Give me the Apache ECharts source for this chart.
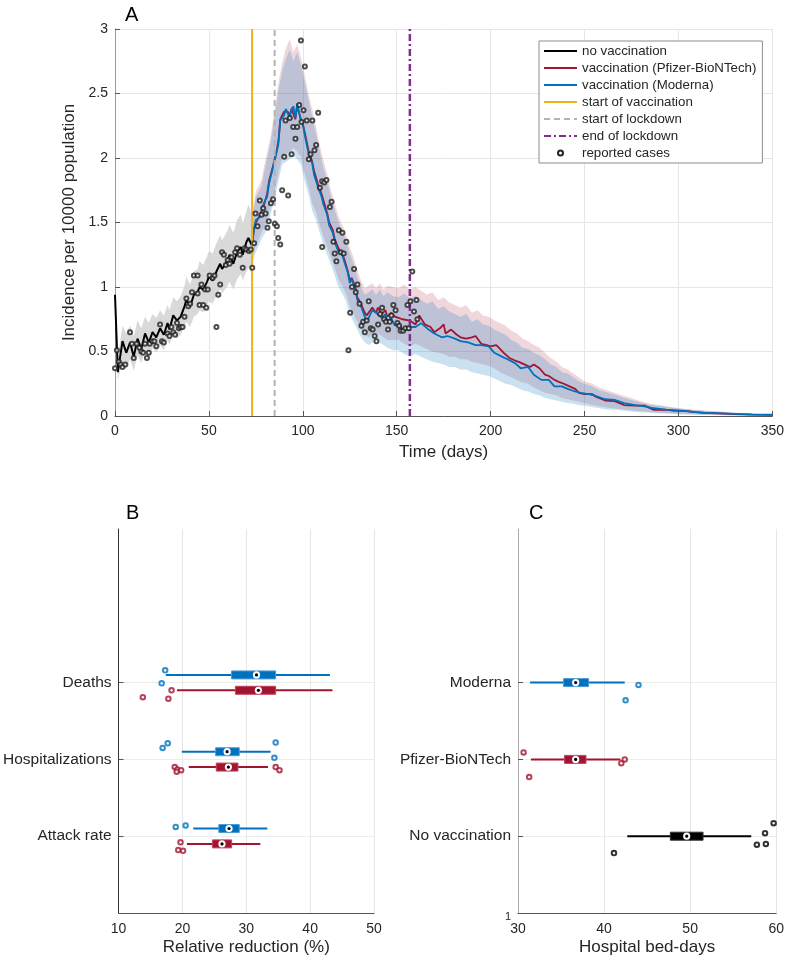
<!DOCTYPE html>
<html>
<head>
<meta charset="utf-8">
<script src="https://cdn.jsdelivr.net/npm/echarts@6/dist/echarts.min.js"></script>
<style>
  html, body { margin: 0; padding: 0; background: #fff; }
  #chart { width: 787px; height: 960px; }
</style>
</head>
<body>
<div id="chart"></div>
<script>
// ---- panel A: incidence per 10000 ----
const noVacDays = [0,1.5,4,6,8,10,12,14,16,18, 20,22,24,26,28,29,31,33,35,37, 38,40,42,44,45,47,49,50,52,54, 56,57,60,61,63,65,67,68,70,71, 73];
const noVac   = [0.94,0.34,0.58,0.49,0.57,0.46,0.60,0.52,0.64,0.57, 0.65,0.61,0.68,0.63,0.72,0.67,0.78,0.74,0.77,0.85, 0.90,0.85,0.94,0.96,1.00,0.98,1.04,1.08,1.05,1.12, 1.18,1.14,1.21,1.25,1.18,1.27,1.31,1.25,1.35,1.38, 1.32];
const noVacUp = [0.94,0.46,0.70,0.64,0.70,0.62,0.74,0.68,0.77,0.72, 0.79,0.76,0.82,0.78,0.86,0.82,0.92,0.89,0.93,1.01, 1.08,1.02,1.12,1.14,1.20,1.17,1.24,1.28,1.26,1.34, 1.40,1.36,1.44,1.48,1.42,1.52,1.56,1.49,1.59,1.64, 1.57];
const noVacLo = [0.94,0.28,0.42,0.36,0.44,0.35,0.47,0.41,0.51,0.45, 0.53,0.49,0.55,0.51,0.59,0.55,0.64,0.60,0.63,0.69, 0.73,0.69,0.77,0.79,0.82,0.80,0.85,0.89,0.87,0.93, 0.98,0.95,1.01,1.04,0.98,1.06,1.10,1.05,1.12,1.15, 1.10];

const redDays = [73,74,75,77,79,81,82,84,86,87, 88,90,91,92,93,94,95,96,97,98, 99,100,101,103,105,106,108,110,111,113, 114,116,117,119,121,122,124,125,126,128, 129,131,133,134,136,137,139,140,142,144, 145,147,149,151,153,157,160,162,165,168, 170,173,175,176,179,182,184,187,190,192, 195,198,200,203,205,207,210,213,215,218, 221,223,226,229,231,234,237,239,242,245, 247,250,254,256,261,266,271,277,282,287, 293,298,303,309,314,321,330,339,350];
const pfizer = [1.33,1.45,1.50,1.55,1.62,1.72,1.82,1.93,2.05,2.13, 2.30,2.36,2.37,2.36,2.33,2.38,2.38,2.30,2.40,2.41, 2.30,2.26,2.20,2.06,1.97,1.90,1.80,1.72,1.67,1.57, 1.50,1.44,1.37,1.30,1.25,1.22,1.12,1.05,1.07,1.00, 0.92,0.87,0.80,0.78,0.82,0.84,0.80,0.84,0.79,0.82, 0.77,0.80,0.77,0.76,0.75,0.74,0.71,0.78,0.71,0.69, 0.65,0.68,0.71,0.64,0.67,0.63,0.61,0.60,0.61,0.62, 0.56,0.55,0.54,0.55,0.52,0.49,0.45,0.43,0.42,0.40, 0.38,0.40,0.37,0.32,0.31,0.28,0.26,0.25,0.23,0.21, 0.18,0.17,0.17,0.15,0.12,0.115,0.085,0.08,0.08,0.047, 0.05,0.04,0.04,0.03,0.025,0.02,0.015,0.01,0.008];

const blueDays = [73,74,75,77,79,81,82,84,86,87, 88,90,91,92,93,94,95,96,97,98, 99,100,101,103,105,106,108,110,111,113, 114,116,117,119,121,122,124,125,126,128, 129,131,133,134,136,137,139,140,142,144, 145,147,149,151,153,156,160,163,167,170, 174,177,181,184,188,192,195,199,202,206, 209,213,216,220,223,227,231,234,238,241, 245,248,252,255,261,266,271,277,282,287, 293,298,303,309,314,321,330,339,350];
const moderna = [1.33,1.45,1.52,1.54,1.64,1.70,1.80,1.92,2.04,2.11, 2.29,2.33,2.38,2.37,2.31,2.38,2.40,2.31,2.42,2.42, 2.29,2.27,2.18,2.04,1.96,1.87,1.78,1.70,1.64,1.56, 1.48,1.42,1.35,1.27,1.25,1.20,1.11,1.03,1.06,0.98, 0.90,0.85,0.77,0.73,0.79,0.82,0.80,0.81,0.76,0.79, 0.73,0.76,0.70,0.72,0.67,0.69,0.69,0.72,0.67,0.64, 0.61,0.62,0.60,0.58,0.57,0.55,0.55,0.54,0.49,0.46, 0.44,0.41,0.37,0.38,0.32,0.28,0.28,0.23,0.23,0.21, 0.19,0.18,0.17,0.16,0.13,0.125,0.10,0.085,0.075,0.06, 0.05,0.045,0.04,0.03,0.025,0.022,0.017,0.013,0.01];

// uncertainty bands of the two vaccination runs
const bandDays = [73,75,78,80,83,85,87,89,91,93, 95,97,99,101,103,105,107,109,111,113, 115,117,119,121,123,125,127,129,131,133, 135,137,139,141,143,145,148,151,154,157, 160,163,166,169,172,175,178,181,184,187, 190,193,196,199,202,205,208,211,214,217, 220,223,226,229,232,235,238,241,244,247, 250,254,258,262,266,270,275,280,285,290, 295,300,310,320,330,340,350];
const pfizerUp = [1.57,1.74,1.83,1.98,2.18,2.38,2.58,2.74,2.85,2.92, 2.82,2.88,2.78,2.65,2.50,2.38,2.25,2.10,1.98,1.88, 1.75,1.65,1.55,1.48,1.41,1.31,1.23,1.13,1.05,0.99, 1.01,1.03,0.99,1.03,0.98,1.01,1.00,0.99,1.02,0.98, 1.00,0.97,0.94,0.96,0.90,0.92,0.88,0.86,0.84,0.86, 0.80,0.82,0.78,0.77,0.74,0.72,0.70,0.66,0.64,0.60, 0.58,0.55,0.53,0.49,0.45,0.42,0.38,0.36,0.33,0.30, 0.27,0.25,0.22,0.20,0.18,0.16,0.14,0.115,0.095,0.085, 0.072,0.062,0.047,0.036,0.026,0.018,0.012];
const pfizerLo = [1.22,1.32,1.42,1.48,1.63,1.75,1.88,2.01,2.03,2.05, 2.08,2.05,2.01,1.88,1.78,1.65,1.58,1.48,1.39,1.31, 1.23,1.15,1.06,1.01,0.95,0.85,0.79,0.73,0.67,0.63, 0.61,0.63,0.65,0.63,0.61,0.59,0.59,0.59,0.56,0.54, 0.56,0.54,0.52,0.50,0.49,0.48,0.46,0.46,0.44,0.44, 0.42,0.41,0.40,0.39,0.37,0.34,0.32,0.30,0.28,0.26, 0.25,0.22,0.20,0.18,0.17,0.16,0.14,0.13,0.12,0.11, 0.10,0.085,0.075,0.065,0.058,0.052,0.042,0.036,0.031,0.026, 0.021,0.016,0.011,0.008,0.005,0.003,0.002];
const modernaUp = [1.54,1.70,1.78,1.93,2.13,2.33,2.52,2.67,2.77,2.84, 2.75,2.82,2.72,2.59,2.45,2.32,2.19,2.05,1.92,1.82, 1.70,1.60,1.50,1.43,1.36,1.26,1.18,1.08,1.00,0.94, 0.96,0.98,0.94,0.98,0.93,0.96,0.93,0.92,0.95,0.91, 0.93,0.90,0.87,0.89,0.83,0.85,0.81,0.79,0.77,0.79, 0.73,0.75,0.71,0.70,0.67,0.65,0.63,0.59,0.57,0.53, 0.52,0.49,0.47,0.44,0.40,0.38,0.34,0.33,0.30,0.27, 0.25,0.23,0.20,0.185,0.165,0.145,0.125,0.105,0.088,0.078, 0.068,0.058,0.044,0.034,0.025,0.018,0.012];
const modernaLo = [1.18,1.27,1.37,1.42,1.57,1.69,1.82,1.95,1.97,1.99, 2.02,1.99,1.95,1.82,1.72,1.59,1.52,1.42,1.33,1.25, 1.17,1.09,1.00,0.95,0.89,0.79,0.73,0.67,0.61,0.57, 0.55,0.57,0.59,0.57,0.55,0.53,0.51,0.51,0.48,0.46, 0.48,0.46,0.44,0.42,0.41,0.40,0.38,0.38,0.36,0.36, 0.34,0.33,0.32,0.31,0.29,0.27,0.25,0.24,0.22,0.20, 0.19,0.17,0.16,0.14,0.13,0.12,0.11,0.10,0.095,0.085, 0.08,0.07,0.06,0.05,0.048,0.043,0.035,0.03,0.026,0.021, 0.017,0.013,0.009,0.007,0.004,0.003,0.002];

// start of vaccination, start of lockdown, end of lockdown
const eventDays = [73, 85, 157];

// reported cases [day, incidence]
const reportedCases = [
  [0,0.37],[1,0.51],[2,0.42],[3,0.40],[4,0.38],[5.5,0.40],[8,0.65],[9,0.56],[10,0.45],[11.5,0.56],
  [13,0.53],[14,0.50],[15,0.49],[16,0.56],[17,0.45],[18,0.49],[18.5,0.56],[20,0.58],[21,0.58],[22,0.54],
  [24,0.71],[25,0.58],[26,0.57],[28,0.64],[29,0.62],[30,0.69],[31,0.65],[32,0.63],[33,0.72],[34,0.68],
  [35,0.69],[36,0.69],[37,0.77],[38,0.91],[39,0.85],[40,0.87],[41,0.96],[42,1.09],[44,1.09],[44,0.95],
  [45,0.86],[46,1.02],[47,0.86],[48,0.98],[48.6,0.84],[49.4,0.98],[50.4,1.09],[52,1.07],[53,1.09],[54,0.69],
  [55,0.94],[56,1.02],[57,1.27],[58,1.25],[59,1.17],[60,1.21],[61,1.18],[62,1.23],[64,1.27],[65,1.30],
  [66.5,1.25],[68,1.15],[69,1.30],[70,1.29],[71.3,1.28],[72.3,1.29],[73.1,1.15],[74.1,1.34],[74.8,1.57],[75.9,1.47],
  [77.1,1.67],[78,1.56],[78.9,1.61],[80.2,1.57],[81.2,1.46],[81.9,1.51],[83,1.65],[84.2,1.68],[85.1,1.49],[86.2,1.47],
  [86.9,1.38],[88,1.33],[89,1.75],[90.1,2.01],[90.8,2.29],[92.2,1.71],[93.1,2.31],[94,2.03],[94.9,2.24],[96.1,2.15],
  [97,2.24],[98.1,2.41],[99,2.91],[99.3,2.28],[100.4,2.37],[101.1,2.71],[102.1,2.29],[103.2,1.99],[104.1,2.03],[105.1,2.29],
  [106.2,2.06],[107.1,2.10],[108.2,2.35],[109.1,1.77],[110.3,1.82],[111.4,1.81],[112.6,1.83],[110.3,1.31],[114.4,1.62],[115.3,1.66],
  [116.3,1.35],[117,1.26],[117.9,1.20],[119.2,1.44],[120.2,1.27],[121.1,1.42],[121.8,1.26],[123.2,1.35],[124.3,0.51],[125.2,0.80],
  [126.2,1.00],[127.3,1.14],[128.2,0.96],[129.1,1.02],[130.2,0.87],[131.2,0.70],[132.1,0.73],[133,0.65],[134,0.74],[135.1,0.89],
  [136.2,0.68],[137.2,0.67],[138.3,0.62],[139.2,0.58],[140.1,0.71],[141.2,0.79],[142.2,0.84],[143.3,0.75],[144.3,0.73],[145.4,0.67],
  [146.3,0.73],[147.2,0.78],[148.2,0.86],[149.4,0.82],[150.4,0.72],[151.3,0.70],[152.1,0.66],[153.4,0.66],[154.6,0.68],[155.7,0.86],
  [156.4,0.68],[157.3,0.89],[158.3,1.12],[159.2,0.81],[160.5,0.90],[161,0.75]
];

// ---- panel B: relative reduction (%) ----  box = [lower whisker, q1, median, q3, upper whisker]
const outcomes = ["Attack rate", "Hospitalizations", "Deaths"];
const outcomePos = [2, 3, 4];
const modernaReduction = [[21.7,25.7,27.3,28.9,33.3],[19.9,25.2,27.0,28.9,33.8],[17.4,27.7,31.6,34.6,43.1]];
const pfizerReduction  = [[20.7,24.7,26.2,27.7,32.2],[21.0,25.3,27.2,28.7,33.4],[19.15,28.3,31.9,34.6,43.5]];
const modernaReductionOut = [[18.95,2.12],[20.5,2.14],[17.7,3.21],[16.9,3.15],[34.6,3.22],[34.4,3.02],[17.3,4.16],[16.75,3.99]];
const pfizerReductionOut  = [[19.7,1.92],[19.35,1.82],[20.1,1.81],[18.8,2.90],[19.2,2.87],[19.8,2.86],[19.1,2.84],[34.6,2.90],[35.2,2.86],[18.3,3.90],[13.8,3.81],[17.8,3.79]];

// ---- panel C: hospital bed-days ----
const scenarios = ["No vaccination", "Pfizer-BioNTech", "Moderna"];
const scenarioPos = [2, 3, 4];
const bedDays = [[42.7,47.7,49.6,51.5,57.1],[31.5,35.4,36.7,37.9,41.9],[31.4,35.3,36.7,38.2,42.4]];
const bedDaysOut = [
  [[41.15,1.78],[57.75,1.89],[58.8,1.90],[58.7,2.04],[59.7,2.17]],
  [[30.65,3.09],[31.3,2.77],[42.0,2.95],[42.4,3.0]],
  [[44.0,3.97],[42.5,3.77]]
];

const FONT = "Liberation Sans, Arial, Helvetica, sans-serif";
const TXT = "#262626";
const BLACK = "#000000", RED = "#A2142F", BLUE = "#0072BD";
const ORANGE = "#EDB120", GREY = "#B3B3B3", PURPLE = "#7E2F8E";

const zip = (xs, ys) => xs.map((x, i) => [x, ys[i]]);

// shaded band between two curves, drawn through the axis scales
const band = (days, up, lo, fill, z) => ({
  type: "custom",
  xAxisIndex: 0,
  yAxisIndex: 0,
  silent: true,
  clip: true,
  z: z,
  data: [[days[0], up[0]]],
  renderItem: (params, api) => {
    const top = days.map((d, i) => api.coord([d, up[i]]));
    const bot = days.map((d, i) => api.coord([d, lo[i]])).reverse();
    return { type: "polygon", shape: { points: top.concat(bot) }, style: { fill: fill } };
  },
});

// horizontal box chart row (matlab boxchart look)
const boxes = (stats, pos, shift, color, edge, axis) => ({
  type: "custom",
  xAxisIndex: axis,
  yAxisIndex: axis,
  silent: true,
  z: 3,
  encode: { x: [1, 2, 3, 4, 5], y: 0 },
  data: stats.map((s, i) => [pos[i] + shift].concat(s)),
  renderItem: (params, api) => {
    const y = api.value(0);
    const p = [1, 2, 3, 4, 5].map((k) => api.coord([api.value(k), y]));
    const h = 8;
    return {
      type: "group",
      children: [
        { type: "line", shape: { x1: p[0][0], y1: p[0][1], x2: p[4][0], y2: p[4][1] }, style: { stroke: color, lineWidth: 2 } },
        { type: "rect", shape: { x: p[1][0], y: p[1][1] - h / 2, width: p[3][0] - p[1][0], height: h }, style: { fill: color, stroke: edge, lineWidth: 1 } },
        { type: "circle", shape: { cx: p[2][0], cy: p[2][1], r: 3.6 }, style: { fill: "#fff" } },
        { type: "circle", shape: { cx: p[2][0], cy: p[2][1], r: 1.6 }, style: { fill: "#000" } },
      ],
    };
  },
});

const outliers = (pts, color, axis) => ({
  type: "scatter",
  xAxisIndex: axis,
  yAxisIndex: axis,
  silent: true,
  z: 4,
  data: pts,
  symbol: "emptyCircle",
  symbolSize: 4.5,
  itemStyle: { color: color, borderColor: color, borderWidth: 1.2 },
});

const vline = (name, day, color, width, dash) => ({
  type: "line",
  name: name,
  xAxisIndex: 0,
  yAxisIndex: 0,
  data: [[day, 0], [day, 3]],
  symbol: "none",
  z: 5,
  lineStyle: { color: color, width: width, type: dash },
  itemStyle: { color: color },
});

const axisBits = {
  axisLine: { lineStyle: { color: "#555", width: 1 } },
  axisTick: { inside: true, length: 5, lineStyle: { color: "#555" } },
  axisLabel: { fontSize: 14, color: TXT, fontFamily: FONT },
  splitLine: { show: true, lineStyle: { color: "#e6e6e6", width: 1 } },
};

const catAxis = (idx, pos, labels, ticks, showOne, lineColor) => ({
  gridIndex: idx,
  type: "value",
  min: 1,
  max: 6,
  axisLine: { show: true, lineStyle: { color: lineColor, width: 1 } },
  axisTick: { show: true, inside: true, length: 5, customValues: ticks, lineStyle: { color: "#555" } },
  axisLabel: {
    customValues: showOne ? [1].concat(ticks) : ticks,
    fontSize: 15.5,
    color: TXT,
    fontFamily: FONT,
    margin: 7,
    formatter: (v) => {
      const i = pos.indexOf(v);
      if (i >= 0) return labels[i];
      return v === 1 ? "{s|1}" : "";
    },
    rich: { s: { fontSize: 11, color: TXT, fontFamily: FONT, padding: [8, 0, 0, 0] } },
  },
  splitLine: { show: true, lineStyle: { color: "#ececec", width: 1 } },
});

// legend entries for lines: hide the marker dot echarts puts on line icons
const lineEntry = (name) => ({ name: name, itemStyle: { opacity: 0 } });

const chart = echarts.init(document.getElementById("chart"), null, { renderer: "canvas" });
chart.setOption({
  animation: false,
  textStyle: { fontFamily: FONT },
  title: [
    { text: "A", left: 120, top: 0, textStyle: { fontSize: 20, fontWeight: "normal", color: "#000", fontFamily: FONT } },
    { text: "B", left: 121, top: 498, textStyle: { fontSize: 20, fontWeight: "normal", color: "#000", fontFamily: FONT } },
    { text: "C", left: 524, top: 498, textStyle: { fontSize: 20, fontWeight: "normal", color: "#000", fontFamily: FONT } },
  ],
  legend: {
    data: [
      lineEntry("no vaccination"),
      lineEntry("vaccination (Pfizer-BioNTech)"),
      lineEntry("vaccination (Moderna)"),
      lineEntry("start of vaccination"),
      lineEntry("start of lockdown"),
      lineEntry("end of lockdown"),
      { name: "reported cases", itemStyle: { opacity: 1 } },
    ],
    orient: "vertical",
    left: 539,
    top: 41,
    itemWidth: 33,
    itemHeight: 5,
    itemGap: 3,
    padding: [3, 6, 3, 4],
    borderColor: "#8c8c8c",
    borderWidth: 1,
    borderRadius: 0,
    backgroundColor: "#fff",
    selectedMode: false,
    textStyle: { fontSize: 13.3, lineHeight: 14, color: TXT, fontFamily: FONT },
  },
  grid: [
    { left: 115, top: 29, width: 658, height: 387 },
    { left: 115, top: 529, width: 259, height: 384 },
    { left: 518, top: 529, width: 261, height: 384 },
  ],
  xAxis: [
    Object.assign({}, axisBits, {
      gridIndex: 0, type: "value", min: 0, max: 350, interval: 50,
      name: "Time (days)", nameLocation: "middle", nameGap: 28,
      nameTextStyle: { fontSize: 17, color: TXT, fontFamily: FONT },
      axisLabel: { fontSize: 14, color: TXT, fontFamily: FONT, margin: 8 },
    }),
    Object.assign({}, axisBits, {
      gridIndex: 1, type: "value", min: 10, max: 50, interval: 10,
      name: "Relative reduction (%)", nameLocation: "middle", nameGap: 26,
      nameTextStyle: { fontSize: 17, color: TXT, fontFamily: FONT },
      axisTick: { show: false },
      axisLabel: { fontSize: 14, color: TXT, fontFamily: FONT, margin: 9 },
    }),
    Object.assign({}, axisBits, {
      gridIndex: 2, type: "value", min: 30, max: 60, interval: 10,
      name: "Hospital bed-days", nameLocation: "middle", nameGap: 26,
      nameTextStyle: { fontSize: 17, color: TXT, fontFamily: FONT },
      axisTick: { show: false },
      axisLabel: { fontSize: 14, color: TXT, fontFamily: FONT, margin: 9 },
    }),
  ],
  yAxis: [
    Object.assign({}, axisBits, {
      gridIndex: 0, type: "value", min: 0, max: 3, interval: 0.5,
      name: "Incidence per 10000 population", nameLocation: "middle", nameGap: 31,
      nameTextStyle: { fontSize: 17, color: TXT, fontFamily: FONT },
      axisLine: { lineStyle: { color: "#9a9a9a", width: 1 } },
      axisLabel: { fontSize: 14, color: TXT, fontFamily: FONT, margin: 7 },
    }),
    catAxis(1, outcomePos, outcomes, outcomePos, false, "#333"),
    catAxis(2, scenarioPos, scenarios, scenarioPos, true, "#aaa"),
  ],
  series: [
    band(noVacDays, noVacUp, noVacLo, "rgba(210,210,210,0.85)", 1),
    band(bandDays, pfizerUp, pfizerLo, "rgba(162,20,47,0.17)", 1),
    band(bandDays, modernaUp, modernaLo, "rgba(0,114,189,0.21)", 1),
    {
      type: "line", name: "no vaccination", data: zip(noVacDays, noVac), symbol: "none", z: 3,
      lineStyle: { color: BLACK, width: 2 }, itemStyle: { color: BLACK },
    },
    {
      type: "line", name: "vaccination (Pfizer-BioNTech)", data: zip(redDays, pfizer), symbol: "none", z: 3,
      lineStyle: { color: RED, width: 1.8 }, itemStyle: { color: RED },
    },
    {
      type: "line", name: "vaccination (Moderna)", data: zip(blueDays, moderna), symbol: "none", z: 3,
      lineStyle: { color: BLUE, width: 1.8 }, itemStyle: { color: BLUE },
    },
    vline("start of vaccination", eventDays[0], ORANGE, 2, "solid"),
    vline("start of lockdown", eventDays[1], GREY, 2, [6, 4]),
    vline("end of lockdown", eventDays[2], PURPLE, 2.5, [7, 3, 2, 3]),
    {
      type: "scatter", name: "reported cases", data: reportedCases, z: 6,
      symbol: "emptyCircle", symbolSize: 4,
      itemStyle: { color: "#222", borderColor: "#222", borderWidth: 0.8 },
    },

    boxes(modernaReduction, outcomePos, 0.1, BLUE, "#4f9ad6", 1),
    boxes(pfizerReduction, outcomePos, -0.1, RED, "#c2455e", 1),
    outliers(modernaReductionOut, BLUE, 1),
    outliers(pfizerReductionOut, RED, 1),

    boxes(bedDays.slice(0, 1), scenarioPos.slice(0, 1), 0, BLACK, "#333", 2),
    boxes(bedDays.slice(1, 2), scenarioPos.slice(1, 2), 0, RED, "#c2455e", 2),
    boxes(bedDays.slice(2, 3), scenarioPos.slice(2, 3), 0, BLUE, "#4f9ad6", 2),
    outliers(bedDaysOut[0], BLACK, 2),
    outliers(bedDaysOut[1], RED, 2),
    outliers(bedDaysOut[2], BLUE, 2),
  ],
});
</script>
</body>
</html>
